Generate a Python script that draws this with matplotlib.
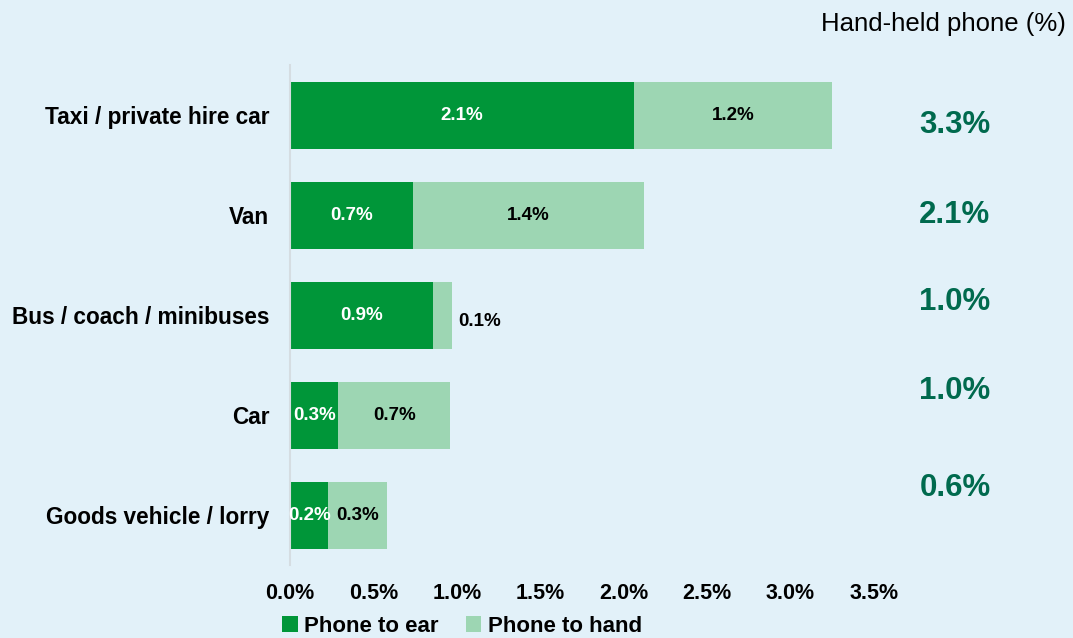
import numpy as np
import matplotlib.pyplot as plt

plt.rcParams['font.family'] = ['Liberation Sans', 'DejaVu Sans']

categories = ['Taxi / private hire car', 'Van', 'Bus / coach / minibuses', 'Car', 'Goods vehicle / lorry']
ear = [2.06, 0.74, 0.86, 0.29, 0.23]
hand = [1.19, 1.38, 0.11, 0.67, 0.35]
ear_labels = ['2.1%', '0.7%', '0.9%', '0.3%', '0.2%']
hand_labels = ['1.2%', '1.4%', '0.1%', '0.7%', '0.3%']
totals = ['3.3%', '2.1%', '1.0%', '1.0%', '0.6%']
xticks = [0.0, 0.5, 1.0, 1.5, 2.0, 2.5, 3.0, 3.5]

bg = '#E2F1F9'
dark = '#009639'
light = '#9DD6B3'
total_col = '#006A4E'

W, H = 1073, 638
fig = plt.figure(figsize=(W / 100, H / 100), dpi=100, facecolor=bg)
ax = fig.add_axes([290 / W, 1 - 565 / H, (874 - 290) / W, 500 / H])
ax.set_facecolor(bg)

y = np.arange(len(categories))
ax.barh(y, ear, height=0.67, color=dark, label='Phone to ear')
ax.barh(y, hand, left=ear, height=0.67, color=light, label='Phone to hand')

for i in range(len(categories)):
    ax.text(ear[i] / 2, y[i], ear_labels[i], ha='center', va='center',
            color='white', fontsize=13.5, fontweight='bold')
    if hand[i] < 0.2:
        ax.text(ear[i] + hand[i] + 0.04, y[i] + 0.06, hand_labels[i], ha='left', va='center',
                color='black', fontsize=13.5, fontweight='bold')
    else:
        ax.text(ear[i] + hand[i] / 2, y[i], hand_labels[i], ha='center', va='center',
                color='black', fontsize=13.5, fontweight='bold')

ax.set_ylim(len(categories) - 0.5, -0.5)
ax.set_xlim(0, 3.5)
ax.set_yticks(y)
ax.set_yticklabels(categories, fontsize=16.3, fontweight='bold')
ax.set_xticks(xticks)
ax.set_xticklabels([f'{t:.1f}%' for t in xticks], fontsize=15.5, fontweight='bold')
ax.tick_params(length=0, pad=15, axis='y')
ax.tick_params(length=0, pad=13, axis='x')
for s in ['top', 'right', 'bottom']:
    ax.spines[s].set_visible(False)
ax.spines['left'].set_color('#D5DDE2')
ax.spines['left'].set_linewidth(1.5)

# totals column on the right
total_y = [122, 212, 299, 388, 485]
for t, ty in zip(totals, total_y):
    fig.text(955 / W, 1 - (ty + 3) / H, t, ha='center', va='center', color=total_col,
             fontsize=22.5, fontweight='bold')

fig.text(1066 / W, 1 - 24 / H, 'Hand-held phone (%)', ha='right', va='center',
         fontsize=18.5, color='black')

fig.legend(loc='center', bbox_to_anchor=(462 / W, 1 - 626 / H), ncol=2, frameon=False,
           prop={'size': 16, 'weight': 'bold'}, handlelength=0.7, handleheight=0.7,
           handletextpad=0.3, columnspacing=1.2, borderaxespad=0)

fig.savefig('out.png', dpi=100, facecolor=bg)
